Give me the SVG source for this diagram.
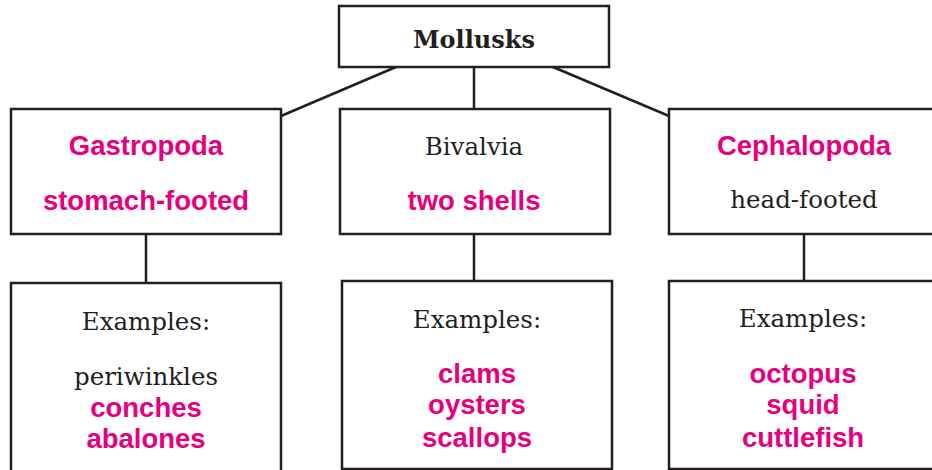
<svg xmlns="http://www.w3.org/2000/svg" width="932" height="470" viewBox="0 0 932 470">
<style>
.box{fill:#fff;stroke:#231f20;stroke-width:2.5}
.con{stroke:#231f20;stroke-width:2.5;fill:none}
.serif{font-family:"DejaVu Serif","Liberation Serif",serif;font-size:24.5px;fill:#231f20;text-anchor:middle}
.title{font-family:"DejaVu Serif","Liberation Serif",serif;font-size:24px;font-weight:bold;fill:#231f20;text-anchor:middle}
.pink{font-family:"Liberation Sans",Arial,sans-serif;font-size:27.5px;font-weight:bold;fill:#e6007e;text-anchor:middle}
</style>
<rect width="932" height="470" fill="#fff"/>
<g id="connectors">
<line class="con" x1="396" y1="67" x2="281" y2="116"/>
<line class="con" x1="474" y1="67" x2="474" y2="109"/>
<line class="con" x1="553" y1="67" x2="669" y2="116"/>
<line class="con" x1="146" y1="234" x2="146" y2="283"/>
<line class="con" x1="474" y1="234" x2="474" y2="281"/>
<line class="con" x1="804" y1="234" x2="804" y2="281"/>
</g>
<g id="mollusks">
<rect class="box" x="339" y="6" width="270" height="61"/>
<text class="title" x="474" y="48">Mollusks</text>
</g>
<g id="gastropoda">
<rect class="box" x="11" y="109" width="270" height="125"/>
<text class="pink" x="146" y="155">Gastropoda</text>
<text class="pink" x="146" y="210">stomach-footed</text>
</g>
<g id="bivalvia">
<rect class="box" x="340" y="109" width="270" height="125"/>
<text class="serif" x="474" y="155">Bivalvia</text>
<text class="pink" x="474" y="210">two shells</text>
</g>
<g id="cephalopoda">
<rect class="box" x="669" y="109" width="270" height="125"/>
<text class="pink" x="804" y="155">Cephalopoda</text>
<text class="serif" x="804" y="208">head-footed</text>
</g>
<g id="gastropoda-examples">
<rect class="box" x="11" y="283" width="270" height="200"/>
<text class="serif" x="146" y="330">Examples:</text>
<text class="serif" x="146" y="385">periwinkles</text>
<text class="pink" x="146" y="417">conches</text>
<text class="pink" x="146" y="448">abalones</text>
</g>
<g id="bivalvia-examples">
<rect class="box" x="342" y="281" width="270" height="188"/>
<text class="serif" x="477" y="328">Examples:</text>
<text class="pink" x="477" y="383">clams</text>
<text class="pink" x="477" y="414">oysters</text>
<text class="pink" x="477" y="447">scallops</text>
</g>
<g id="cephalopoda-examples">
<rect class="box" x="669" y="281" width="270" height="188"/>
<text class="serif" x="803" y="327">Examples:</text>
<text class="pink" x="803" y="383">octopus</text>
<text class="pink" x="803" y="414">squid</text>
<text class="pink" x="803" y="447">cuttlefish</text>
</g>
</svg>
